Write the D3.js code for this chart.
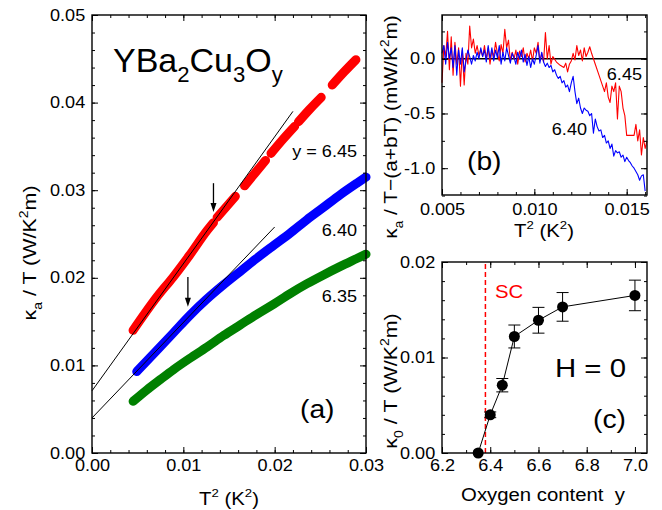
<!DOCTYPE html>
<html>
<head>
<meta charset="utf-8">
<script src="https://cdn.jsdelivr.net/npm/d3@7"></script>
<style>
  body { margin: 0; background: #fff; }
  svg { display: block; font-family: "Liberation Sans", Arial, sans-serif; }
</style>
</head>
<body>
<svg id="chart" width="662" height="510"></svg>
<script>
// ---- values ----

// (a) kappa_a / T  vs  T^2 ; null = gap between runs
const red645 = [
  [0.0045, 0.0140], [0.0071, 0.0178], [0.0089, 0.0201], [0.0107, 0.0226],
  [0.0126, 0.0254], [0.0133, 0.0263], null,
  [0.0137, 0.0269], [0.0157, 0.0293], null,
  [0.0167, 0.0305], [0.0178, 0.0319], [0.0190, 0.0334], null,
  [0.0196, 0.0342], [0.0209, 0.0358], [0.0222, 0.0373], null,
  [0.0226, 0.0378], [0.0238, 0.0392], [0.0251, 0.0406], null,
  [0.0263, 0.0420], [0.0276, 0.0435], [0.0289, 0.0449]
];
const blue640 = [
  [0.0049, 0.0093], [0.0070, 0.0116], [0.0089, 0.0137], [0.0107, 0.0157],
  [0.0125, 0.0175], [0.0144, 0.0192], [0.0162, 0.0207], [0.0180, 0.0222],
  [0.0199, 0.0237], [0.0217, 0.0251], [0.0235, 0.0266], [0.0253, 0.0280],
  [0.0272, 0.0295], [0.0290, 0.0308], [0.0300, 0.0315]
];
const green635 = [
  [0.0045, 0.0059], [0.0060, 0.0072], [0.0075, 0.0084], [0.0089, 0.0095],
  [0.0107, 0.0108], [0.0126, 0.0121], [0.0144, 0.0134], [0.0162, 0.0146],
  [0.0180, 0.0158], [0.0199, 0.0170], [0.0217, 0.0182], [0.0235, 0.0193],
  [0.0253, 0.0203], [0.0272, 0.0213], [0.0290, 0.0222], [0.0300, 0.0227]
];
// linear fits a + b T^2 : [a, b, last T^2 drawn]
const fitLines = [[0.0071, 1.45, 0.0220], [0.0040, 1.09, 0.0200]];
// arrows : [T^2, from, to]
const arrows = [[0.0133, 0.0308, 0.0275], [0.0105, 0.0201, 0.0167]];

// (b) kappa_a/T - (a+bT) in mW/K^2m
const dev645 = [
  [0.0050,-0.22],[0.0051,0.12],[0.0052,0.02],[0.0053,0.25],[0.0054,-0.10],[0.0055,0.20],
  [0.0056,-0.15],[0.0057,0.15],[0.0058,-0.05],[0.0059,0.10],[0.0060,-0.25],[0.0061,0.08],
  [0.0062,-0.24],[0.0063,0.05],[0.0064,-0.05],[0.0065,0.30],[0.0066,0.10],[0.0067,0.18],
  [0.0068,0.05],[0.0069,0.12],[0.0070,0.03],[0.0071,0.08],[0.0072,0.02],[0.0073,0.12],
  [0.0074,0.00],[0.0075,0.10],[0.0076,-0.05],[0.0077,0.08],[0.0078,0.02],[0.0079,0.15],
  [0.0080,0.05],[0.0081,-0.02],[0.0082,0.13],[0.0083,0.05],[0.0084,0.27],[0.0085,0.10],
  [0.0086,0.17],[0.0087,-0.02],[0.0088,0.06],[0.0089,0.00],[0.0090,0.08],[0.0091,-0.05],
  [0.0092,0.07],[0.0093,0.02],[0.0094,0.10],[0.0095,-0.03],[0.0096,0.05],[0.0097,0.00],
  [0.0098,0.08],[0.0099,-0.02],[0.0100,0.10],[0.0101,0.05],[0.0102,0.15],[0.0103,-0.02],
  [0.0104,0.05],[0.0105,-0.03],[0.0106,0.24],[0.0107,0.00],[0.0108,0.12],[0.0109,-0.05],
  [0.0110,0.02],[0.0112,-0.03],[0.0114,-0.06],[0.0116,-0.08],[0.0117,-0.04],[0.0118,-0.12],
  [0.0119,-0.05],[0.0120,-0.02],[0.0121,0.05],[0.0122,-0.01],[0.0123,0.12],[0.0124,0.03],
  [0.0125,0.08],[0.0126,-0.02],[0.0127,0.10],[0.0128,0.02],[0.0129,0.06],[0.0130,0.11],
  [0.0131,0.05],[0.0133,-0.05],[0.0135,-0.15],[0.0137,-0.25],[0.0138,-0.30],[0.0139,-0.22],
  [0.0140,-0.35],[0.0141,-0.40],[0.0142,-0.25],[0.0143,-0.30],[0.0144,-0.22],[0.0145,-0.55],
  [0.0146,-0.25],[0.0147,-0.30],[0.0148,-0.45],[0.0149,-0.52],[0.0150,-0.70],[0.0152,-0.70],
  [0.0154,-0.70],[0.0155,-0.60],[0.0156,-0.75],[0.0157,-0.65],[0.0158,-0.88],[0.0159,-0.72],
  [0.0160,-0.82],[0.0161,-0.75]
];
const dev640 = [
  [0.0050,0.05],[0.0051,0.12],[0.0052,-0.05],[0.0053,0.15],[0.0054,0.00],[0.0055,0.10],
  [0.0056,-0.08],[0.0057,0.12],[0.0058,-0.15],[0.0059,0.08],[0.0060,-0.05],[0.0061,0.10],
  [0.0062,-0.12],[0.0063,-0.02],[0.0064,0.08],[0.0065,0.02],[0.0066,-0.05],[0.0067,0.03],
  [0.0068,-0.02],[0.0069,0.06],[0.0070,0.00],[0.0071,0.10],[0.0072,0.02],[0.0073,0.08],
  [0.0074,-0.03],[0.0075,0.12],[0.0076,0.00],[0.0077,0.10],[0.0078,-0.02],[0.0079,0.08],
  [0.0080,0.01],[0.0081,0.12],[0.0082,-0.05],[0.0083,0.06],[0.0084,-0.02],[0.0085,0.10],
  [0.0086,0.03],[0.0087,-0.04],[0.0088,0.05],[0.0089,0.01],[0.0090,-0.05],[0.0091,0.06],
  [0.0092,0.00],[0.0093,0.08],[0.0094,-0.03],[0.0095,0.04],[0.0096,-0.06],[0.0097,0.02],
  [0.0098,-0.08],[0.0099,0.00],[0.0100,-0.05],[0.0101,0.03],[0.0102,0.12],[0.0103,-0.04],
  [0.0104,0.06],[0.0105,-0.03],[0.0106,-0.07],[0.0107,-0.04],[0.0108,-0.08],[0.0109,-0.06],
  [0.0110,-0.12],[0.0111,-0.10],[0.0112,-0.15],[0.0113,-0.18],[0.0114,-0.16],[0.0115,-0.22],
  [0.0116,-0.20],[0.0117,-0.26],[0.0118,-0.24],[0.0119,-0.30],[0.0120,-0.22],[0.0121,-0.16],
  [0.0122,-0.30],[0.0123,-0.41],[0.0124,-0.36],[0.0125,-0.45],[0.0126,-0.50],[0.0127,-0.45],
  [0.0128,-0.47],[0.0129,-0.48],[0.0130,-0.52],[0.0131,-0.50],[0.0132,-0.68],[0.0133,-0.55],
  [0.0134,-0.62],[0.0135,-0.66],[0.0136,-0.65],[0.0137,-0.72],[0.0138,-0.70],[0.0139,-0.77],
  [0.0140,-0.75],[0.0141,-0.82],[0.0142,-0.78],[0.0143,-0.89],[0.0144,-0.84],[0.0145,-0.86],
  [0.0146,-0.85],[0.0147,-0.90],[0.0148,-0.88],[0.0149,-0.94],[0.0150,-0.90],[0.0151,-0.93],
  [0.0152,-0.95],[0.0153,-0.98],[0.0154,-1.00],[0.0155,-1.03],[0.0156,-1.06],[0.0157,-1.11],
  [0.0158,-1.07],[0.0159,-1.06],[0.0160,-1.21]
];

// (c) kappa_0 / T vs oxygen content
const oxygen = [6.35, 6.40, 6.45, 6.50, 6.60, 6.70, 7.00];
const kappa0 = [0.0000, 0.0040, 0.0071, 0.0122, 0.0139, 0.0153, 0.0165];
const kappa0Err = [0, 0.0003, 0.0007, 0.0012, 0.00135, 0.0015, 0.0016];
const scBoundary = 6.38;

// tick values
const aXTicks = [0, 0.01, 0.02, 0.03];
const aYTicks = [0, 0.01, 0.02, 0.03, 0.04, 0.05];
const bXTicks = [0.005, 0.010, 0.015];
const bYTicks = [-1.0, -0.5, 0.0];
const cXTicks = [6.2, 6.4, 6.6, 6.8, 7.0];
const cYTicks = [0, 0.01, 0.02];

// ---- drawing ----
const svg = d3.select("#chart");
const S = 1.13; // the lettering in the figure is a bit wide

function rich(t, parts) {
  const fs = +t.attr("font-size");
  let shift = 0;
  parts.forEach(([s, kind]) => {
    const target = kind === "sub" ? 0.3 * fs : kind === "sup" ? -0.42 * fs : 0;
    t.append("tspan")
      .attr("dy", target - shift)
      .attr("font-size", kind ? fs * 0.65 : fs)
      .text(s);
    shift = target;
  });
  return t;
}

function label(x, y, size, anchor, rot, sx = S) {
  return svg.append("text")
    .attr("transform", `translate(${x},${y})` + (rot ? " rotate(-90)" : "") + ` scale(${sx},1)`)
    .attr("font-size", size)
    .attr("text-anchor", anchor || "start");
}

function range(a, b, step) {
  const n = Math.round((b - a) / step);
  return d3.range(n + 1).map(i => +(a + i * step).toFixed(6));
}

function frame(x, y, xt, yt, xmin, ymin, xfmt, yfmt, xpad) {
  const [x0, x1] = x.range(), [y1, y0] = y.range();
  const g = svg.append("g");
  const put = (axis, tx, ty) => {
    const a = g.append("g").attr("transform", `translate(${tx},${ty})`).call(axis);
    a.select(".domain").remove();
    a.selectAll("line").attr("stroke", "#000").attr("stroke-width", 1);
    a.selectAll("text")
      .attr("font-size", 16)
      .attr("font-family", "Liberation Sans, Arial, sans-serif")
      .attr("fill", "#000")
      .attr("transform", `scale(${S},1)`);
  };
  put(d3.axisBottom(x).tickValues(xmin).tickSize(-3).tickFormat(""), 0, y1);
  put(d3.axisTop(x).tickValues(xmin).tickSize(-3).tickFormat(""), 0, y0);
  put(d3.axisLeft(y).tickValues(ymin).tickSize(-3).tickFormat(""), x0, 0);
  put(d3.axisRight(y).tickValues(ymin).tickSize(-3).tickFormat(""), x1, 0);
  put(d3.axisBottom(x).tickValues(xt).tickSize(-6).tickPadding(xpad).tickFormat(xfmt), 0, y1);
  put(d3.axisTop(x).tickValues(xt).tickSize(-6).tickFormat(""), 0, y0);
  put(d3.axisLeft(y).tickValues(yt).tickSize(-6).tickPadding(6).tickFormat(yfmt), x0, 0);
  put(d3.axisRight(y).tickValues(yt).tickSize(-6).tickFormat(""), x1, 0);
  g.append("rect")
    .attr("x", x0).attr("y", y0)
    .attr("width", x1 - x0).attr("height", y1 - y0)
    .attr("fill", "none").attr("stroke", "#000").attr("stroke-width", 1.4);
}

// ---------- panel (a) ----------
const xa = d3.scaleLinear().domain([0, 0.03]).range([92, 366]);
const ya = d3.scaleLinear().domain([0, 0.05]).range([453, 15]);

const thick = d3.line()
  .defined(d => d !== null)
  .x(d => xa(d[0])).y(d => ya(d[1]))
  .curve(d3.curveMonotoneX);

[[red645, "#ff0000"], [blue640, "#0000ff"], [green635, "#008000"]].forEach(([s, c]) => {
  svg.append("path")
    .attr("d", thick(s))
    .attr("fill", "none")
    .attr("stroke", c)
    .attr("stroke-width", 9)
    .attr("stroke-linecap", "round")
    .attr("stroke-linejoin", "round");
});

fitLines.forEach(([a, b, end]) => {
  svg.append("line")
    .attr("x1", xa(0)).attr("y1", ya(a))
    .attr("x2", xa(end)).attr("y2", ya(a + b * end))
    .attr("stroke", "#000").attr("stroke-width", 1);
});

arrows.forEach(([t, from, to]) => {
  const px = xa(t), tip = ya(to);
  svg.append("line")
    .attr("x1", px).attr("y1", ya(from))
    .attr("x2", px).attr("y2", tip - 6)
    .attr("stroke", "#000").attr("stroke-width", 1.3);
  svg.append("path")
    .attr("d", `M${px - 3},${tip - 9}L${px + 3},${tip - 9}L${px},${tip}Z`)
    .attr("fill", "#000");
});

frame(xa, ya, aXTicks, aYTicks, range(0, 0.03, 0.002), range(0, 0.05, 0.002),
  d3.format(".2f"), d3.format(".2f"), 7);

rich(label(113, 72, 34, "start", false, 1), [["YBa"], ["2", "sub"], ["Cu"], ["3", "sub"], ["O"], ["y", "sub"]]);
label(357, 157, 16, "end").text("y = 6.45");
label(357, 236, 16, "end").text("6.40");
label(357, 302, 16, "end").text("6.35");
label(300, 418, 25, "start").text("(a)");
rich(label(229, 505, 18, "middle"), [["T"], ["2", "sup"], [" (K"], ["2", "sup"], [")"]]);
rich(label(36, 253, 19, "middle", true), [["\u03ba"], ["a", "sub"], [" / T (W/K"], ["2", "sup"], ["m)"]]);

// ---------- panel (b) ----------
const xb = d3.scaleLinear().domain([0.005, 0.0161]).range([442, 647]);
const yb = d3.scaleLinear().domain([-1.245, 0.40]).range([195, 15]);

svg.append("line")
  .attr("x1", xb(0.005)).attr("x2", xb(0.0161))
  .attr("y1", yb(0)).attr("y2", yb(0))
  .attr("stroke", "#000").attr("stroke-width", 1.5);

const thin = d3.line().x(d => xb(d[0])).y(d => yb(d[1]));
[[dev645, "#ff0000"], [dev640, "#0000ff"]].forEach(([s, c]) => {
  svg.append("path")
    .attr("d", thin(s))
    .attr("fill", "none")
    .attr("stroke", c)
    .attr("stroke-width", 1.1)
    .attr("stroke-linejoin", "round");
});

frame(xb, yb, bXTicks, bYTicks, range(0.005, 0.016, 0.001), range(-1.25, 0.25, 0.25),
  d3.format(".3f"), d => d.toFixed(1), 9);

label(642, 80, 16, "end").text("6.45");
label(587, 135, 16, "end").text("6.40");
label(467, 170, 25, "start").text("(b)");
rich(label(544, 237, 18, "middle"), [["T"], ["2", "sup"], [" (K"], ["2", "sup"], [")"]]);
rich(label(397, 127, 18.5, "middle", true),
  [["\u03ba"], ["a", "sub"], [" / T\u2212(a+bT) (mW/K"], ["2", "sup"], ["m)"]]);

// ---------- panel (c) ----------
const xc = d3.scaleLinear().domain([6.2, 7.05]).range([442, 647]);
const yc = d3.scaleLinear().domain([0, 0.02]).range([453, 262]);

svg.append("line")
  .attr("x1", xc(scBoundary)).attr("x2", xc(scBoundary))
  .attr("y1", yc(0)).attr("y2", yc(0.02))
  .attr("stroke", "#ff0000").attr("stroke-width", 1.5)
  .attr("stroke-dasharray", "5,3");

const pts = oxygen.map((o, i) => [o, kappa0[i], kappa0Err[i]]);

svg.append("path")
  .attr("d", d3.line().x(d => xc(d[0])).y(d => yc(d[1]))(pts))
  .attr("fill", "none").attr("stroke", "#000").attr("stroke-width", 1);

const eb = svg.append("g").attr("stroke", "#000").attr("stroke-width", 1);
pts.filter(d => d[2] > 0).forEach(([o, k, e]) => {
  const px = xc(o);
  eb.append("line").attr("x1", px).attr("x2", px).attr("y1", yc(k - e)).attr("y2", yc(k + e));
  eb.append("line").attr("x1", px - 6).attr("x2", px + 6).attr("y1", yc(k - e)).attr("y2", yc(k - e));
  eb.append("line").attr("x1", px - 6).attr("x2", px + 6).attr("y1", yc(k + e)).attr("y2", yc(k + e));
});

svg.append("g").selectAll("circle")
  .data(pts)
  .join("circle")
  .attr("cx", d => xc(d[0]))
  .attr("cy", d => yc(d[1]))
  .attr("r", 5.5)
  .attr("fill", "#000");

frame(xc, yc, cXTicks, cYTicks, range(6.2, 7.0, 0.1), range(0, 0.02, 0.002),
  d3.format(".1f"), d3.format(".2f"), 7);

label(495, 298, 18, "start").attr("fill", "#ff0000").text("SC");
label(555, 377, 26, "start").text("H = 0");
label(593, 428, 25, "start").text("(c)");
label(543, 501, 18, "middle").text("Oxygen content  y").attr("xml:space", "preserve").style("white-space", "pre");
rich(label(397, 381, 19, "middle", true), [["\u03ba"], ["0", "sub"], [" / T (W/K"], ["2", "sup"], ["m)"]]);
</script>
</body>
</html>
